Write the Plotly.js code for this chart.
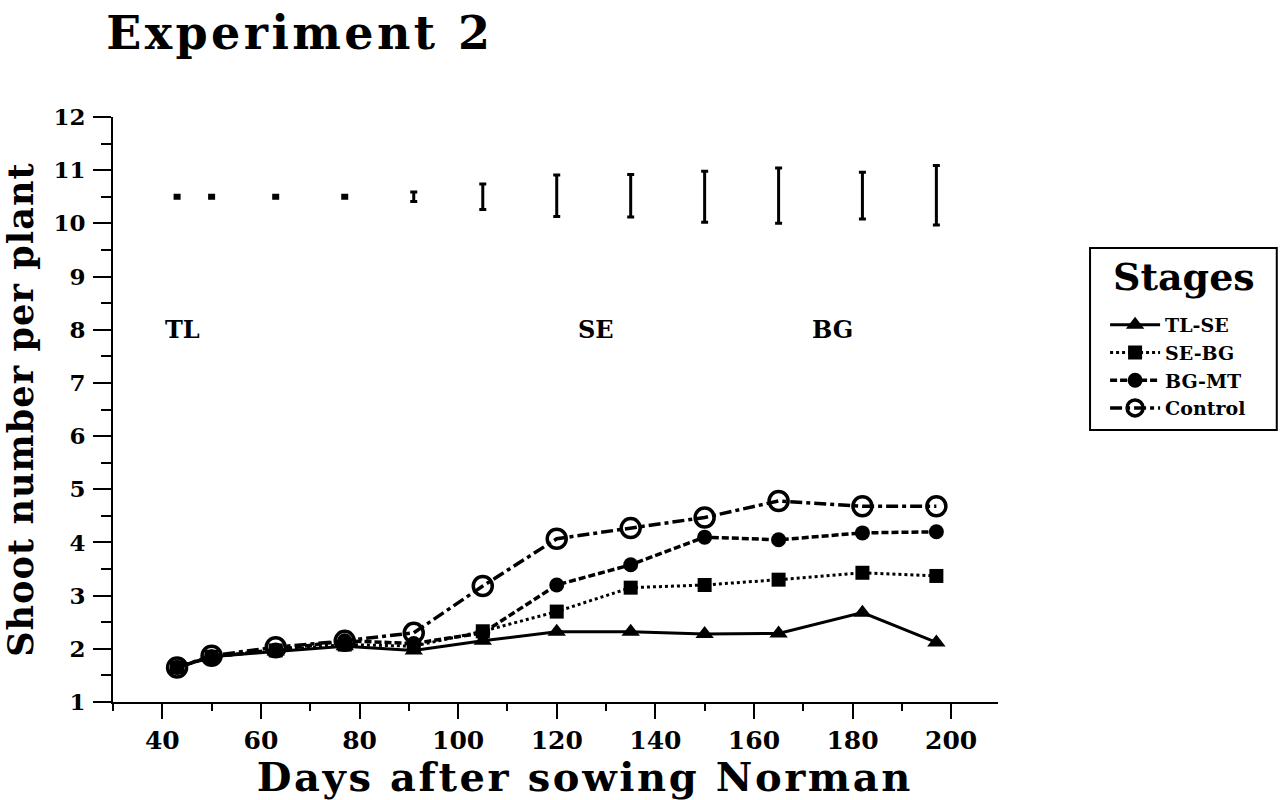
<!DOCTYPE html>
<html>
<head>
<meta charset="utf-8">
<script src="https://cdn.plot.ly/plotly-3.0.1.min.js"></script>
<style>
  html, body { margin: 0; padding: 0; background: #fff; }
  #chart { width: 1280px; height: 800px; }
</style>
</head>
<body>
<div id="chart"></div>
<script>
// Sampling days (days after sowing)
const days = [43, 50, 63, 77, 91, 105, 120, 135, 150, 165, 182, 197];

// Mean shoot number per plant for each stress stage
const tlSe    = [1.65, 1.85, 1.95, 2.05, 1.97, 2.15, 2.32, 2.32, 2.28, 2.29, 2.68, 2.12];
const seBg    = [1.65, 1.85, 1.97, 2.08, 2.05, 2.33, 2.70, 3.15, 3.20, 3.30, 3.43, 3.37];
const bgMt    = [1.65, 1.85, 1.98, 2.15, 2.10, 2.30, 3.20, 3.58, 4.10, 4.05, 4.18, 4.20];
const control = [1.65, 1.87, 2.03, 2.15, 2.30, 3.18, 4.07, 4.27, 4.47, 4.78, 4.68, 4.68];

// LSD bars drawn along the top of the plot
const lsdCenter = [10.5, 10.5, 10.5, 10.5, 10.5, 10.5, 10.52, 10.52, 10.5, 10.52, 10.52, 10.53];
const lsdHalf   = [0.03, 0.03, 0.03, 0.03, 0.09, 0.24, 0.39, 0.40, 0.48, 0.52, 0.44, 0.56];

// Growth-stage labels
const stageNames = ['TL', 'SE', 'BG'];
const stageDays  = [44, 128, 176];
const stageLevel = [8, 8, 8];

const seriesNames = ['TL-SE', 'SE-BG', 'BG-MT', 'Control'];

const FONT = '"DejaVu Serif", serif';
const INK = '#000';

const traces = [
  {
    x: days, y: tlSe, name: seriesNames[0], type: 'scatter', mode: 'lines+markers',
    line: { color: INK, width: 3 },
    marker: { symbol: 'triangle-up', size: 16, color: INK }
  },
  {
    x: days, y: seBg, name: seriesNames[1], type: 'scatter', mode: 'lines+markers',
    line: { color: INK, width: 3, dash: 'dot' },
    marker: { symbol: 'square', size: 14, color: INK }
  },
  {
    x: days, y: bgMt, name: seriesNames[2], type: 'scatter', mode: 'lines+markers',
    line: { color: INK, width: 3.5, dash: '7px,3px' },
    marker: { symbol: 'circle', size: 15, color: INK }
  },
  {
    x: days, y: control, name: seriesNames[3], type: 'scatter', mode: 'lines+markers',
    line: { color: INK, width: 3.5, dash: '12px,4px,4px,4px' },
    marker: { symbol: 'circle-open', size: 19, color: INK, line: { width: 3.5, color: INK } }
  },
  {
    x: days, y: lsdCenter, type: 'scatter', mode: 'markers', showlegend: false, hoverinfo: 'skip',
    marker: { size: 1, color: 'rgba(0,0,0,0)' },
    error_y: { type: 'data', array: lsdHalf, visible: true, color: INK, thickness: 3, width: 3.5 }
  }
];

const annotations = stageNames.map((t, i) => ({
  x: stageDays[i], y: stageLevel[i], xref: 'x', yref: 'y', text: t, showarrow: false,
  font: { family: FONT, size: 24, color: INK, weight: 700 }
}));

// x-axis title, centred under the labelled span of the axis
annotations.push({
  x: 0.533, y: -0.1265, xref: 'paper', yref: 'paper', xanchor: 'center', yanchor: 'middle',
  text: '<b>Days after sowing Norman</b>', showarrow: false,
  font: { family: FONT, size: 40, color: INK }
});

// legend heading
annotations.push({
  x: 1.2107, y: 0.7265, xref: 'paper', yref: 'paper', xanchor: 'center', yanchor: 'middle',
  text: '<b>Stages</b>', showarrow: false,
  font: { family: FONT, size: 38, color: INK }
});

const layout = {
  width: 1280, height: 800,
  paper_bgcolor: '#fff', plot_bgcolor: '#fff',
  margin: { l: 113, r: 282, t: 117, b: 98 },
  font: { family: FONT, color: INK },
  title: {
    text: '<b>Experiment 2</b>',
    font: { family: FONT, size: 46, color: INK },
    xref: 'container', x: 0.083, xanchor: 'left',
    yref: 'container', y: 0.959, yanchor: 'middle'
  },
  xaxis: {
    range: [30, 209.5],
    tickmode: 'linear', tick0: 0, dtick: 20,
    ticks: 'outside', ticklen: 15, tickwidth: 2, tickcolor: INK,
    minor: { dtick: 10, tick0: 0, ticks: 'outside', ticklen: 7, tickwidth: 2, tickcolor: INK },
    showline: true, linewidth: 2, linecolor: INK,
    showgrid: false, zeroline: false,
    tickfont: { family: FONT, size: 25, color: INK, weight: 700 },
    ticklabelstandoff: 0
  },
  yaxis: {
    range: [1, 12],
    tickmode: 'linear', tick0: 0, dtick: 1,
    ticks: 'outside', ticklen: 18, tickwidth: 2, tickcolor: INK,
    minor: { dtick: 0.5, tick0: 0, ticks: 'outside', ticklen: 10, tickwidth: 2, tickcolor: INK },
    showline: true, linewidth: 2, linecolor: INK,
    showgrid: false, zeroline: false,
    tickfont: { family: FONT, size: 23, color: INK, weight: 700 },
    ticklabelstandoff: 3,
    title: { text: '<b>Shoot number per plant</b>', font: { family: FONT, size: 35, color: INK }, standoff: 10 }
  },
  legend: {
    x: 1.121, xanchor: 'left', xref: 'paper',
    y: 0.677, yanchor: 'top', yref: 'paper',
    bgcolor: 'rgba(0,0,0,0)', borderwidth: 0,
    itemwidth: 50,
    font: { family: FONT, size: 19, color: INK, weight: 700 },
    tracegroupgap: 0
  },
  shapes: [{
    type: 'rect', xref: 'paper', yref: 'paper',
    x0: 1.104, x1: 1.315, y0: 0.465, y1: 0.776,
    line: { color: INK, width: 2 }, fillcolor: 'rgba(0,0,0,0)'
  }],
  annotations: annotations,
  showlegend: true
};

Plotly.newPlot('chart', traces, layout, { staticPlot: true, displayModeBar: false }).then(gd => {
  // widen the heavy heading lettering
  const spacing = [['.gtitle', '3.4px'], ['.ytitle', '1.1px']];
  spacing.forEach(([sel, ls]) => {
    gd.querySelectorAll(sel).forEach(el => { el.style.letterSpacing = ls; });
  });
  gd.querySelectorAll('.annotation-text').forEach(el => {
    if (el.textContent === 'Days after sowing Norman') el.style.letterSpacing = '2.6px';
  });
});
</script>
</body>
</html>
